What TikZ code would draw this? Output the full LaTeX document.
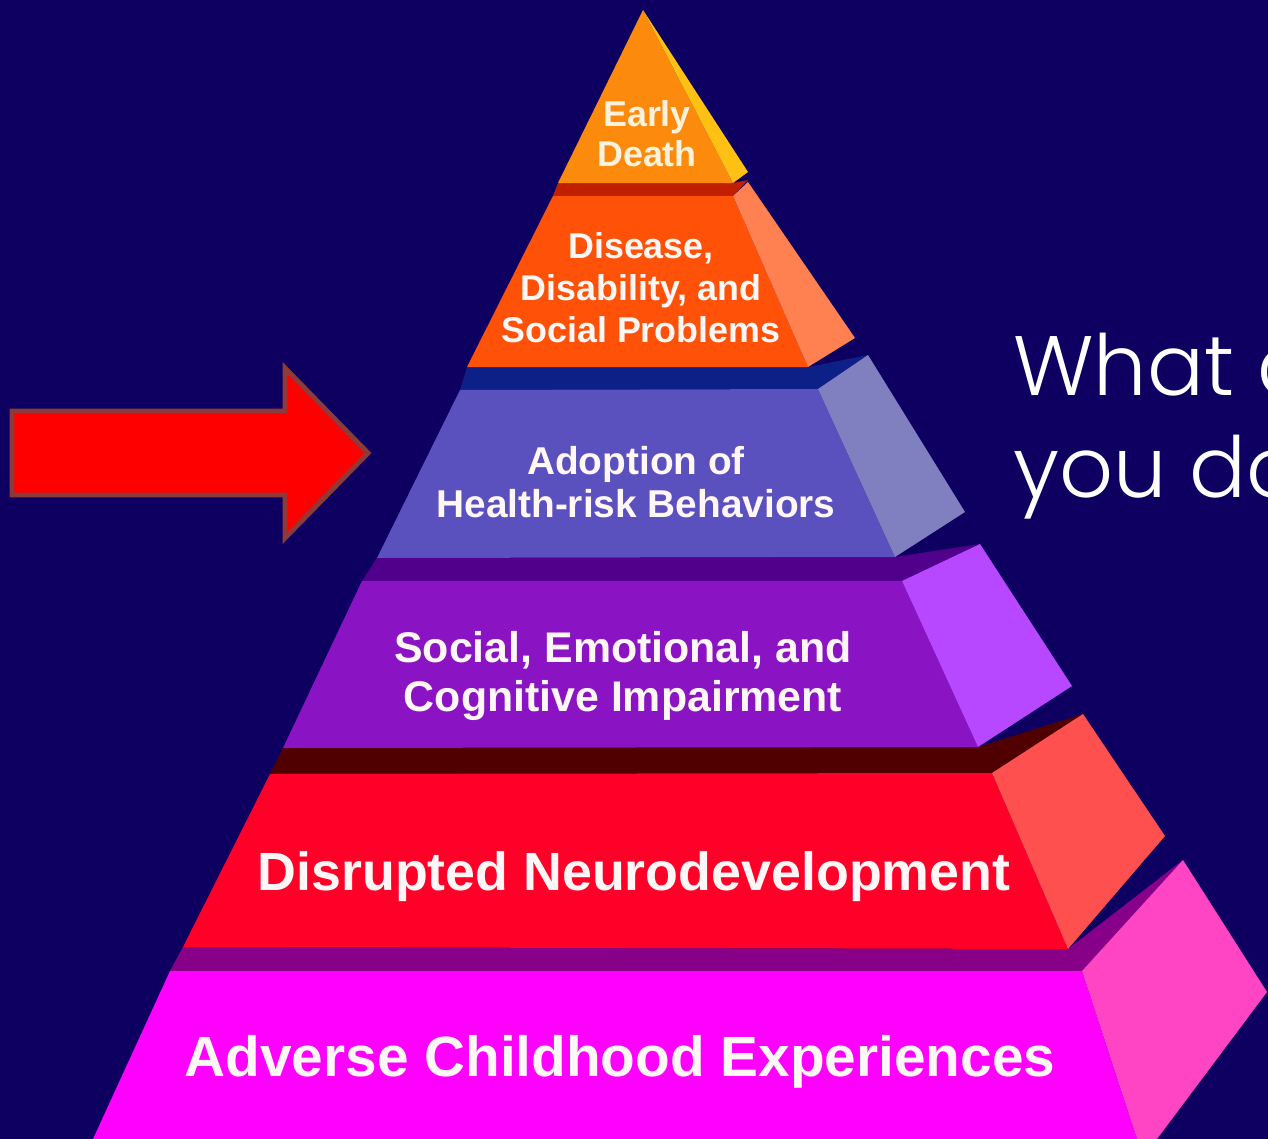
\documentclass[tikz,border=0pt]{standalone}
\usepackage{fontspec}
\setmainfont{Liberation Sans}
\newfontfamily\askfont{Poppins Light}
\usepackage{tikz}

\definecolor{backdrop}{RGB}{14,0,96}
\definecolor{earlyfront}{RGB}{252,138,12}
\definecolor{earlyside}{RGB}{255,192,20}
\definecolor{diseasetop}{RGB}{192,32,0}
\definecolor{diseasefront}{RGB}{255,82,8}
\definecolor{diseaseside}{RGB}{255,128,80}
\definecolor{adoptiontop}{RGB}{12,32,136}
\definecolor{adoptionfront}{RGB}{90,80,190}
\definecolor{adoptionside}{RGB}{128,128,192}
\definecolor{socialtop}{RGB}{80,0,138}
\definecolor{socialfront}{RGB}{138,20,196}
\definecolor{socialside}{RGB}{184,72,255}
\definecolor{neurotop}{RGB}{80,0,0}
\definecolor{neurofront}{RGB}{255,0,40}
\definecolor{neuroside}{RGB}{255,80,80}
\definecolor{acetop}{RGB}{136,0,136}
\definecolor{acefront}{RGB}{255,0,255}
\definecolor{aceside}{RGB}{255,68,196}
\definecolor{arrowedge}{RGB}{140,58,58}
\definecolor{cream}{RGB}{255,242,220}
\definecolor{paletext}{RGB}{255,246,246}

\tikzstyle{layertext} = [text=paletext, align=center, inner sep=0pt]
\tikzstyle{asktext} = [text=white, anchor=base west, inner sep=0pt, font=\askfont\fontsize{48pt}{56pt}\selectfont]
\tikzstyle{bigarrow} = [fill=red, draw=arrowedge, line width=2.8pt, line join=miter]

\begin{document}
\begin{tikzpicture}[x=0.02cm, y=-0.02cm]
        \fill[backdrop] (0,0) rectangle (1268,1139);
        \clip (0,0) rectangle (1268,1139);

        % bottom block first, each top face runs back under the block above it
        \fill[acetop] (170,971) -- (1082,971) -- (1183,860) -- (1068,949) -- (183,947) -- cycle;
        \fill[acefront] (170,971) -- (1082,971) -- (1137,1139) -- (93,1139) -- cycle;
        \fill[aceside] (1082,971) -- (1183,860) -- (1267,992) -- (1157,1139) -- (1137,1139) -- cycle;

        \fill[neurotop] (270,774) -- (992,773) -- (1083,714) -- (978,747) -- (283,748) -- cycle;
        \fill[neurofront] (270,774) -- (992,773) -- (1068,949) -- (183,947) -- cycle;
        \fill[neuroside] (992,773) -- (1083,714) -- (1165,836) -- (1068,949) -- cycle;

        \fill[socialtop] (362,581) -- (902,581) -- (980,544) -- (895,557) -- (377,558) -- cycle;
        \fill[socialfront] (362,581) -- (902,581) -- (978,747) -- (283,748) -- cycle;
        \fill[socialside] (902,581) -- (980,544) -- (1072,686) -- (978,747) -- cycle;

        \fill[adoptiontop] (460,390) -- (818,389) -- (868,355) -- (808,367) -- (467,367) -- cycle;
        \fill[adoptionfront] (460,390) -- (818,389) -- (895,557) -- (377,558) -- cycle;
        \fill[adoptionside] (818,389) -- (868,355) -- (965,512) -- (895,557) -- cycle;

        \fill[diseasetop] (553,196) -- (733,196) -- (748,180) -- (733,183) -- (558,183) -- cycle;
        \fill[diseasefront] (553,196) -- (733,196) -- (808,367) -- (467,367) -- cycle;
        \fill[diseaseside] (733,196) -- (748,182) -- (855,338) -- (808,367) -- cycle;

        \fill[earlyfront] (643,10) -- (733,183) -- (558,183) -- cycle;
        \fill[earlyside] (643,10) -- (748,172) -- (733,183) -- cycle;

        \node (early) [layertext, text=cream, font=\bfseries\fontsize{20.4pt}{22.7pt}\selectfont] at (647,134) {Early\\Death};
        \node (disease) [layertext, font=\bfseries\fontsize{20.4pt}{23.8pt}\selectfont] at (641,288) {Disease,\\Disability, and\\Social Problems};
        \node (adoption) [layertext, font=\bfseries\fontsize{22.1pt}{24.4pt}\selectfont] at (636,482) {Adoption of\\Health-risk Behaviors};
        \node (social) [layertext, font=\bfseries\fontsize{24.4pt}{27.8pt}\selectfont] at (623,676) {Social, Emotional, and\\Cognitive Impairment};
        \node (neuro) [layertext, font=\bfseries\fontsize{30.6pt}{34pt}\selectfont] at (634,877) {Disrupted Neurodevelopment};
        \node (ace) [layertext, font=\bfseries\fontsize{32.3pt}{36pt}\selectfont] at (620,1062) {Adverse Childhood Experiences};

        \draw[bigarrow] (12,411) -- (285,411) -- (285,368) -- (368,453) -- (285,538) -- (285,495) -- (12,495) -- cycle;

        \node (ask1) [asktext] at (1013,395) {What c};
        \node (ask2) [asktext] at (1013,497) {you do};
    \end{tikzpicture}
\end{document}
